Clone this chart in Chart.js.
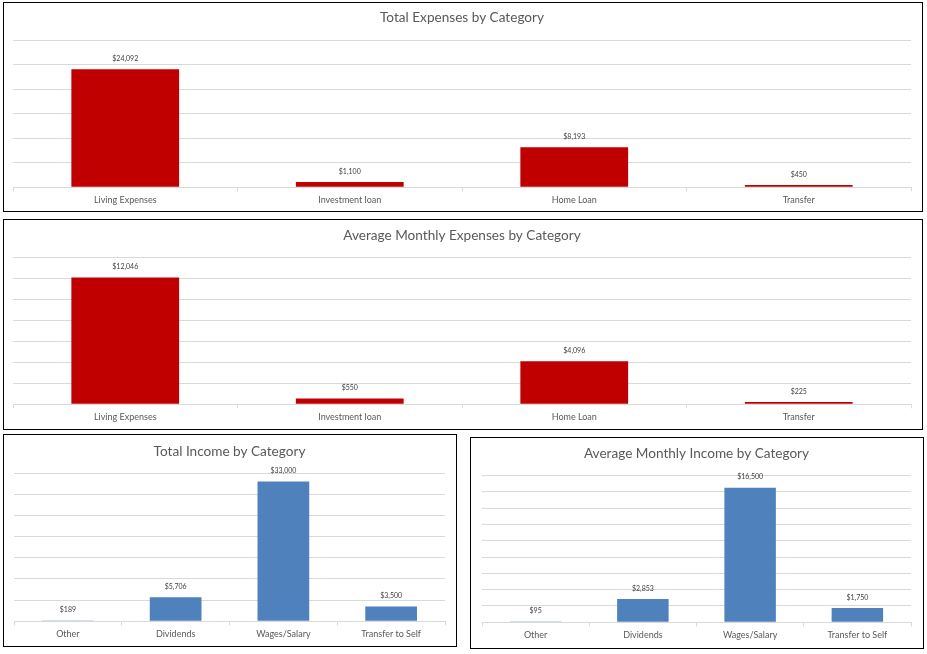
<!DOCTYPE html>
<html>
<head>
<meta charset="utf-8">
<script src="https://cdn.jsdelivr.net/npm/chart.js@4.4.0/dist/chart.umd.min.js"></script>
<style>
  html, body { margin: 0; padding: 0; background: #ffffff; }
  body { width: 927px; height: 654px; position: relative; overflow: hidden; }
  .box { position: absolute; box-sizing: border-box; border: 1px solid #000; background: #fff; }
  .box > div { position: relative; width: 100%; height: 100%; }
</style>
</head>
<body>
<div class="box" id="b1" style="left:3px;top:2px;width:920px;height:210px;"><div><canvas id="c1"></canvas></div></div>
<div class="box" id="b2" style="left:3px;top:219px;width:920px;height:211px;"><div><canvas id="c2"></canvas></div></div>
<div class="box" id="b3" style="left:3px;top:434px;width:454px;height:213px;"><div><canvas id="c3"></canvas></div></div>
<div class="box" id="b4" style="left:470px;top:437px;width:454px;height:212px;"><div><canvas id="c4"></canvas></div></div>
<script>
// ---- Data ----
const expenseCategories = ["Living Expenses", "Investment loan", "Home Loan", "Transfer"];
const totalExpenses = [24092, 1100, 8193, 450];
const avgMonthlyExpenses = [12046, 550, 4096, 225];

const incomeCategories = ["Other", "Dividends", "Wages/Salary", "Transfer to Self"];
const totalIncome = [189, 5706, 33000, 3500];
const avgMonthlyIncome = [95, 2853, 16500, 1750];

const titles = [
  "Total Expenses by Category",
  "Average Monthly Expenses by Category",
  "Total Income by Category",
  "Average Monthly Income by Category"
];
// y-axis ranges (max, step) as in the original axes
const axisMax = [30000, 14000, 35000, 18000];
const axisStep = [5000, 2000, 5000, 2000];

// ---- Styling ----
const FONT = "Lato, 'Open Sans', sans-serif";
const RED = "#C00000";
const BLUE = "#4F81BD";
const GRID = "#D9D9D9";
const TEXT = "#595959";

const dataLabels = {
  id: "dataLabels",
  afterDatasetsDraw(chart) {
    const ctx = chart.ctx;
    ctx.save();
    ctx.font = "7px " + FONT;
    ctx.fillStyle = "#404040";
    ctx.textAlign = "center";
    ctx.textBaseline = "bottom";
    chart.data.datasets.forEach((ds, i) => {
      const meta = chart.getDatasetMeta(i);
      meta.data.forEach((bar, j) => {
        const v = ds.data[j];
        ctx.fillText("$" + v.toLocaleString("en-US"), bar.x, bar.y - 7);
      });
    });
    ctx.restore();
  }
};

function makeChart(id, labels, values, color, idx, pad, titlePad) {
  return new Chart(document.getElementById(id), {
    type: "bar",
    data: {
      labels: labels,
      datasets: [{
        data: values,
        backgroundColor: color,
        borderWidth: 0,
        categoryPercentage: 1.0,
        barPercentage: 0.48
      }]
    },
    options: {
      responsive: true,
      maintainAspectRatio: false,
      animation: false,
      events: [],
      layout: { padding: pad },
      plugins: {
        legend: { display: false },
        tooltip: { enabled: false },
        title: {
          display: true,
          text: titles[idx],
          color: TEXT,
          font: { family: FONT, size: 13.6, weight: "normal" },
          padding: titlePad
        }
      },
      scales: {
        x: {
          grid: { display: true, drawOnChartArea: false, drawTicks: true, tickLength: 4, color: GRID, offset: true },
          border: { display: true, color: GRID, width: 1 },
          ticks: { color: TEXT, font: { family: FONT, size: 9 }, padding: 3, maxRotation: 0, autoSkip: false }
        },
        y: {
          min: 0,
          max: axisMax[idx],
          ticks: { display: false, stepSize: axisStep[idx] },
          grid: { color: GRID, drawTicks: false, lineWidth: 1 },
          border: { display: false }
        }
      }
    },
    plugins: [dataLabels]
  });
}

makeChart("c1", expenseCategories, totalExpenses, RED, 0,
  { left: 9, right: 11, top: 0, bottom: 2.9 }, { top: 6.8, bottom: 14.3 });
makeChart("c2", expenseCategories, avgMonthlyExpenses, RED, 1,
  { left: 9, right: 11, top: 0, bottom: 3.9 }, { top: 7.8, bottom: 12.9 });
makeChart("c3", incomeCategories, totalIncome, BLUE, 2,
  { left: 10, right: 11, top: 0, bottom: 3.9 }, { top: 8.5, bottom: 13.2 });
makeChart("c4", incomeCategories, avgMonthlyIncome, BLUE, 3,
  { left: 11, right: 12, top: 0, bottom: 4.9 }, { top: 7.8, bottom: 13.3 });
</script>
</body>
</html>
